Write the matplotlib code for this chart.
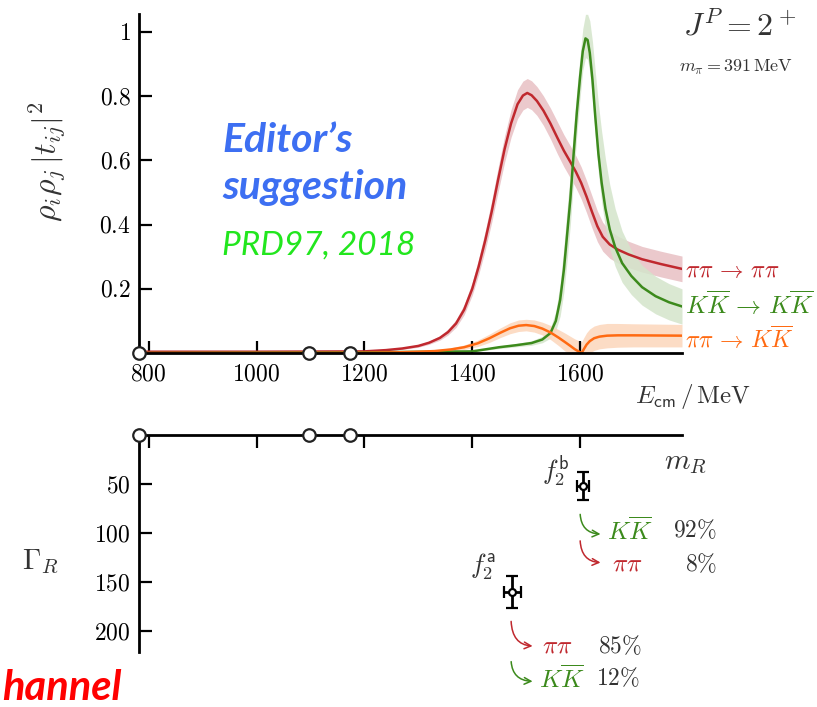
import matplotlib
matplotlib.use('Agg')
import matplotlib.pyplot as plt
from matplotlib.patches import FancyArrowPatch

plt.rcParams['mathtext.fontset'] = 'cm'
plt.rcParams['font.family'] = 'serif'
plt.rcParams['font.serif'] = ['Liberation Serif', 'DejaVu Serif']

W, H = 817, 707

# E in MeV, values of rho_i rho_j |t_ij|^2
E_red = [782, 1000, 1200, 1240, 1270, 1300, 1320, 1340, 1355, 1370, 1385, 1400, 1412, 1424,
         1436, 1448, 1460, 1472, 1484, 1494, 1502, 1510, 1520, 1532, 1545, 1558, 1570, 1582,
         1592, 1602, 1612, 1622, 1632, 1642, 1655, 1670, 1690, 1715, 1750, 1789]
red = [0.004, 0.004, 0.005, 0.009, 0.014, 0.022, 0.032, 0.047, 0.065, 0.092, 0.135, 0.20,
       0.27, 0.35, 0.44, 0.54, 0.635, 0.715, 0.775, 0.802, 0.81, 0.803, 0.785, 0.755, 0.715,
       0.67, 0.63, 0.595, 0.565, 0.53, 0.487, 0.44, 0.395, 0.362, 0.338, 0.322, 0.307, 0.292,
       0.277, 0.262]
red_err = [0.0, 0.0, 0.001, 0.002, 0.003, 0.004, 0.005, 0.007, 0.009, 0.012, 0.016, 0.02,
           0.025, 0.03, 0.034, 0.038, 0.041, 0.043, 0.045, 0.045, 0.045, 0.045, 0.045, 0.046,
           0.048, 0.05, 0.05, 0.05, 0.05, 0.05, 0.05, 0.05, 0.048, 0.045, 0.043, 0.042, 0.041,
           0.04, 0.04, 0.04]

E_grn = [782, 1200, 1400, 1450, 1480, 1510, 1530, 1545, 1555, 1563, 1570, 1576, 1582, 1588,
         1594, 1600, 1605, 1610, 1614, 1618, 1623, 1628, 1634, 1640, 1647, 1655, 1665, 1678,
         1695, 1715, 1740, 1765, 1789]
grn = [0.0, 0.002, 0.005, 0.018, 0.024, 0.031, 0.042, 0.062, 0.10, 0.165, 0.26, 0.37, 0.48,
       0.62, 0.75, 0.86, 0.94, 0.98, 0.975, 0.935, 0.85, 0.74, 0.62, 0.53, 0.45, 0.385, 0.33,
       0.28, 0.24, 0.205, 0.177, 0.158, 0.145]
grn_hi = [0.0, 0.001, 0.002, 0.004, 0.005, 0.007, 0.01, 0.016, 0.03, 0.05, 0.07, 0.08, 0.08,
          0.08, 0.07, 0.065, 0.07, 0.075, 0.08, 0.1, 0.12, 0.14, 0.155, 0.16, 0.155, 0.14,
          0.12, 0.1, 0.08, 0.068, 0.062, 0.058, 0.055]
grn_lo = [0.0, 0.001, 0.002, 0.004, 0.005, 0.007, 0.01, 0.016, 0.03, 0.05, 0.07, 0.08, 0.08,
          0.08, 0.07, 0.065, 0.06, 0.06, 0.06, 0.06, 0.06, 0.06, 0.06, 0.06, 0.06, 0.06, 0.06,
          0.06, 0.058, 0.056, 0.055, 0.055, 0.055]

E_org = [782, 1200, 1260, 1300, 1330, 1360, 1385, 1410, 1432, 1452, 1470, 1486, 1500, 1515,
         1530, 1545, 1560, 1572, 1582, 1590, 1597, 1603, 1607, 1612, 1618, 1626, 1636, 1650,
         1670, 1700, 1789]
org = [0.0, 0.001, 0.002, 0.004, 0.006, 0.011, 0.018, 0.03, 0.046, 0.063, 0.077, 0.085, 0.087,
       0.084, 0.076, 0.064, 0.048, 0.034, 0.022, 0.012, 0.005, 0.0, 0.012, 0.026, 0.037,
       0.046, 0.051, 0.054, 0.055, 0.055, 0.054]
org_err = [0.0, 0.0, 0.001, 0.002, 0.003, 0.005, 0.007, 0.01, 0.013, 0.015, 0.017, 0.018,
           0.018, 0.019, 0.02, 0.022, 0.025, 0.028, 0.03, 0.032, 0.034, 0.035, 0.036, 0.037,
           0.038, 0.038, 0.038, 0.038, 0.037, 0.036, 0.035]

thresholds = [782, 1098, 1174]

x_ticks = [800, 1000, 1200, 1400, 1600]
y_ticks = [0.2, 0.4, 0.6, 0.8, 1.0]
y_tick_labels = ['0.2', '0.4', '0.6', '0.8', '1']
w_ticks = [50, 100, 150, 200]

# resonance poles: mass, width
pole_m = [1474, 1605]
pole_m_err = [16, 11]
pole_w = [160, 52]
pole_w_err = [16, 14]

c_red, c_grn, c_org = '#c0282e', '#3c8a1c', '#ff6a12'
b_red, b_grn, b_org = '#e9c3c7', '#d4e5cb', '#fcd6bb'


def fx(x):
    return x / W


def fy(y):
    return 1 - y / H


fig = plt.figure(figsize=(W / 100, H / 100), dpi=100)
ax = fig.add_axes([fx(139), fy(353), fx(682) - fx(139), fy(14) - fy(353)])
ax2 = fig.add_axes([fx(139), fy(652), fx(682) - fx(139), fy(435) - fy(652)])

# top panel
lo = [v - e for v, e in zip(red, red_err)]
hi = [v + e for v, e in zip(red, red_err)]
ax.fill_between(E_red, lo, hi, color=b_red, lw=0, alpha=0.9)
lo = [v - e for v, e in zip(grn, grn_lo)]
hi = [v + e for v, e in zip(grn, grn_hi)]
ax.fill_between(E_grn, lo, hi, color=b_grn, lw=0, alpha=0.85)
lo = [max(v - e, 0) for v, e in zip(org, org_err)]
hi = [v + e for v, e in zip(org, org_err)]
ax.fill_between(E_org, lo, hi, color=b_org, lw=0, alpha=0.85)
ax.plot(E_red, red, color=c_red, lw=1.8)
ax.plot(E_grn, grn, color=c_grn, lw=1.8)
ax.plot(E_org, org, color=c_org, lw=1.8)

ax.set_xlim(782, 1789)
ax.set_ylim(0, 1.056)
ax.set_xticks(x_ticks)
ax.set_xticklabels(['$%d$' % t for t in x_ticks])
ax.set_yticks(y_ticks)
ax.set_yticklabels(['$%s$' % t for t in y_tick_labels])
for s in ['top', 'right']:
    ax.spines[s].set_visible(False)
for s in ['left', 'bottom']:
    ax.spines[s].set_linewidth(2)
ax.tick_params(direction='in', length=9, width=1.6, labelsize=17, pad=8)
ax.tick_params(axis='y', pad=6)
ax.plot(thresholds, [0] * 3, 'o', ms=9, mfc='white', mec='#222222', mew=1.6,
        clip_on=False, zorder=5)

# bottom panel
ax2.errorbar(pole_m, pole_w, xerr=pole_m_err, yerr=pole_w_err, fmt='o', ms=5,
             mfc='white', mec='black', mew=1.6, ecolor='black', elinewidth=2,
             capsize=4, capthick=2, zorder=4)
ax2.set_xlim(782, 1789)
ax2.set_ylim(221, 0)
ax2.set_xticks(x_ticks)
ax2.set_yticks(w_ticks)
ax2.set_yticklabels(['$%d$' % t for t in w_ticks])
ax2.xaxis.tick_top()
ax2.tick_params(axis='x', labeltop=False)
for s in ['bottom', 'right']:
    ax2.spines[s].set_visible(False)
for s in ['left', 'top']:
    ax2.spines[s].set_linewidth(2)
ax2.tick_params(direction='in', length=9, width=1.6, labelsize=17, pad=6)
ax2.plot(thresholds, [0] * 3, 'o', ms=9, mfc='white', mec='#222222', mew=1.6,
         clip_on=False, zorder=5)

# labels
fig.text(fx(48), fy(162), r'$\rho_i\rho_j\,|t_{ij}|^2$', rotation=90, fontsize=23,
         ha='center', va='center', color='#333333')
fig.text(fx(740), fy(27), r'$J^P = 2^+$', fontsize=23, ha='center', va='center',
         color='#333333')
fig.text(fx(736), fy(67), r'$m_\pi = 391\,\mathrm{MeV}$', fontsize=13, ha='center',
         va='center', color='#333333')
fig.text(fx(693), fy(397), r'$E_{\mathsf{cm}}\,/\,\mathrm{MeV}$', fontsize=18,
         ha='center', va='center', color='#333333')
fig.text(fx(685), fy(463), r'$m_R$', fontsize=21, ha='center', va='center',
         color='#333333')
fig.text(fx(40), fy(562), r'$\Gamma_R$', fontsize=21, ha='center', va='center',
         color='#333333')

fig.text(fx(685), fy(272), r'$\pi\pi\,\rightarrow\,\pi\pi$', fontsize=17, color=c_red,
         ha='left', va='center')
fig.text(fx(685), fy(305), r'$K\overline{K}\,\rightarrow\,K\overline{K}$', fontsize=18,
         color=c_grn, ha='left', va='center')
fig.text(fx(685), fy(339), r'$\pi\pi\,\rightarrow\,K\overline{K}$', fontsize=17,
         color=c_org, ha='left', va='center')

fig.text(fx(222), fy(152), 'Editor\u2019s', fontsize=29.5, color='#3d6ff2',
         family='Lato', weight='bold', style='italic', ha='left', va='baseline')
fig.text(fx(222), fy(199), 'suggestion', fontsize=29.5, color='#3d6ff2',
         family='Lato', weight='bold', style='italic', ha='left', va='baseline')
fig.text(fx(222), fy(255), 'PRD97, 2018', fontsize=24, color='#22e61e',
         family='Lato', style='italic', ha='left', va='baseline')
fig.text(fx(2), fy(700), 'hannel', fontsize=30, color='#ff0000',
         family='Lato', weight='bold', style='italic', ha='left', va='baseline')

# pole labels and branching fractions
ax2.text(1554, 38, r'$f_2^{\mathsf{b}}$', fontsize=19, ha='center', va='center',
         color='#333333')
ax2.text(1420, 134, r'$f_2^{\mathsf{a}}$', fontsize=19, ha='center', va='center',
         color='#333333')

decays = [
    ((1600, 78), (1643, 101), r'$K\overline{K}$', c_grn, 1650, 97, r'$92\%$', 1854),
    ((1600, 105), (1643, 130), r'$\pi\pi$', c_red, 1659, 132, r'$8\%$', 1854),
    ((1472, 187), (1517, 215), r'$\pi\pi$', c_red, 1530, 215, r'$85\%$', 1715),
    ((1472, 228), (1517, 251), r'$K\overline{K}$', c_grn, 1524, 248, r'$12\%$', 1711),
]
for p0, p1, lab, col, tx, ty, pct, px in decays:
    arr = FancyArrowPatch(p0, p1, transform=ax2.transData, arrowstyle='->',
                          mutation_scale=12, color=col, lw=1.1,
                          connectionstyle='angle3,angleA=90,angleB=0', clip_on=False)
    ax2.add_patch(arr)
    ax2.text(tx, ty, lab, fontsize=18, color=col, ha='left', va='center', clip_on=False)
    ax2.text(px, ty, pct, fontsize=17, color='#333333', ha='right', va='center',
             clip_on=False)

fig.savefig('out.png', dpi=100)
